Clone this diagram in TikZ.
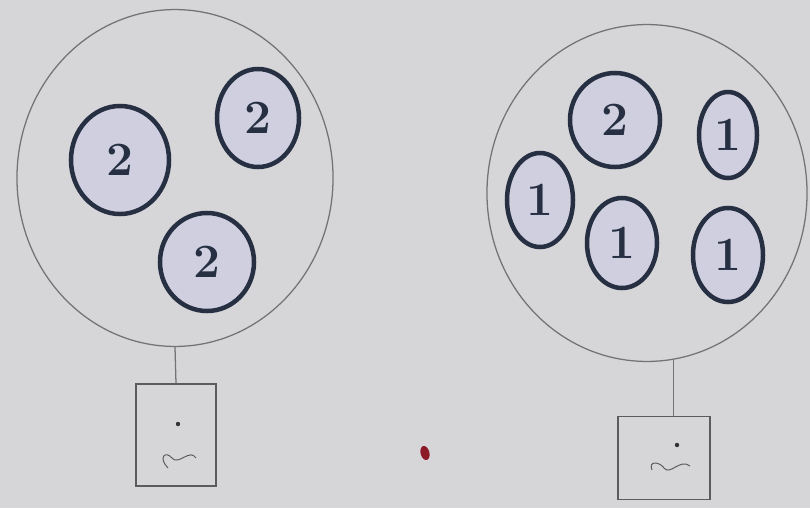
\documentclass[tikz,border=0pt]{standalone}
\usepackage{tikz}
\usetikzlibrary{positioning}
\usetikzlibrary{shapes.geometric}
\definecolor{Paper}{rgb}{0.84, 0.84, 0.85}
\definecolor{Ink}{rgb}{0.15, 0.19, 0.26}
\definecolor{Lilac}{rgb}{0.81, 0.81, 0.88}
\definecolor{Pencil}{rgb}{0.45, 0.45, 0.46}
\definecolor{DarkRed}{rgb}{0.55, 0.10, 0.15}

\begin{document}
\begin{tikzpicture}[x=0.025cm, y=-0.025cm,
    every node/.style={inner sep=0pt},
    pot/.style={ellipse, draw=Pencil, line width=0.9pt},
    ball/.style={ellipse, draw=Ink, line width=3.2pt, fill=Lilac, text=Ink,
      font=\fontsize{34}{34}\selectfont\bfseries},
    tag/.style={rectangle, draw=Pencil!80!black, line width=0.9pt}]
      \fill[Paper] (0,0) rectangle (810,508);
      \useasboundingbox (0,0) rectangle (810,508);

      % the two containers
      \node[pot, minimum width=7.9cm, minimum height=8.42cm] at (175,178) (lpot) {};
      \node[pot, minimum width=8.0cm, minimum height=8.42cm] at (647,193) (rpot) {};

      % left: three of kind 2
      \node[ball, minimum width=2.45cm, minimum height=2.7cm] at (120,160) (la) {2};
      \node[ball, minimum width=2.05cm, minimum height=2.45cm] at (258,118) (lb) {2};
      \node[ball, minimum width=2.35cm, minimum height=2.45cm] at (207,262) (lc) {2};

      % right: one of kind 2, four of kind 1
      \node[ball, minimum width=2.25cm, minimum height=2.35cm] at (615,120) (ra) {2};
      \node[ball, minimum width=1.45cm, minimum height=2.15cm] at (728,135) (rb) {1};
      \node[ball, minimum width=1.65cm, minimum height=2.35cm] at (540,200) (rc) {1};
      \node[ball, minimum width=1.75cm, minimum height=2.25cm] at (622,243) (rd) {1};
      \node[ball, minimum width=1.75cm, minimum height=2.35cm] at (728,255) (re) {1};

      % tags below
      \node[tag, minimum width=2.0cm, minimum height=2.55cm] at (176,435) (ltag) {};
      \node[tag, minimum width=2.3cm, minimum height=2.08cm] at (664,458) (rtag) {};

      \draw[Pencil, line width=0.9pt] (lpot.south) -- (ltag.north);
      \draw[Pencil, line width=0.9pt] (rpot.-81) -- (rpot.-81 |- rtag.north);

      \fill[black!80] (178,424) circle (2.2);
      \fill[black!80] (677,445) circle (2.2);
      \draw[Pencil!80!black, line width=0.7pt] (168,468) .. controls (158,458) and (165,450) .. (172,458)
        .. controls (178,466) and (190,448) .. (196,458);
      \draw[Pencil!80!black, line width=0.7pt] (652,470) .. controls (648,460) and (660,462) .. (664,468)
        .. controls (670,476) and (680,458) .. (690,466);

      % red mark
      \node[ellipse, fill=DarkRed, minimum width=0.22cm, minimum height=0.36cm, rotate=15] at (425,453) (spot) {};
    \end{tikzpicture}
\end{document}
